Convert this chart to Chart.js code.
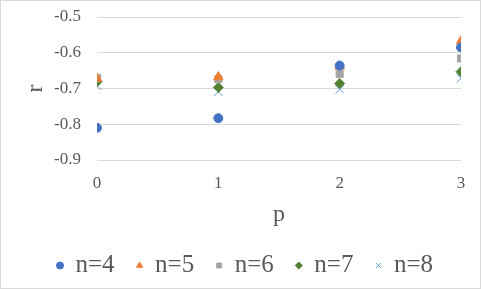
<!DOCTYPE html>
<html>
<head>
<meta charset="utf-8">
<script src="https://cdn.jsdelivr.net/npm/chart.js@4/dist/chart.umd.min.js"></script>
<style>
  html, body { margin: 0; padding: 0; background: #fff; }
  #wrap { width: 481px; height: 289px; box-sizing: border-box; border: 1px solid #d9d9d9; }
</style>
</head>
<body>
<div id="wrap"><canvas id="scatterChart"></canvas></div>
<script>
// p values on the x axis
const pValues = [0, 1, 2, 3];

// r values per series
const n4 = [-0.810, -0.783, -0.636, -0.585];
const n5 = [-0.672, -0.668, -0.638, -0.567];
const n6 = [-0.671, -0.674, -0.659, -0.616];
const n7 = [-0.681, -0.697, -0.686, -0.653];
const n8 = [-0.692, -0.709, -0.702, -0.671];

const yTicks = [-0.9, -0.8, -0.7, -0.6, -0.5];

function pts(arr) {
  return pValues.map((p, i) => ({ x: p, y: arr[i] }));
}

const serif = '"Liberation Serif", "Times New Roman", serif';
Chart.defaults.font.family = serif;
Chart.defaults.color = '#595959';

// legend row is centred with a trailing gap, nudge it back to the middle
const legendShift = {
  id: 'legendShift',
  afterLayout(chart) {
    chart.legend.left += 14;
    chart.legend.right += 14;
  }
};

new Chart("scatterChart", {
  type: 'scatter',
  data: {
    datasets: [
      { label: 'n=4', data: pts(n4), pointStyle: 'circle', pointRadius: 4.5, backgroundColor: '#4472C4', borderColor: '#4472C4' },
      { label: 'n=5', data: pts(n5), pointStyle: 'triangle', pointRadius: 5.5, backgroundColor: '#ED7D31', borderColor: '#ED7D31' },
      { label: 'n=6', data: pts(n6), pointStyle: 'rect', pointRadius: 5, backgroundColor: '#A5A5A5', borderColor: '#A5A5A5' },
      { label: 'n=7', data: pts(n7), pointStyle: 'rectRot', pointRadius: 5, backgroundColor: '#548235', borderColor: '#548235' },
      { label: 'n=8', data: pts(n8), pointStyle: 'cross', pointRotation: 45, pointRadius: 6, borderWidth: 1, backgroundColor: '#5B9BD5', borderColor: '#5B9BD5' }
    ]
  },
  options: {
    responsive: true,
    maintainAspectRatio: false,
    animation: false,
    layout: { padding: { top: 16, right: 19, left: 0, bottom: 0 } },
    plugins: {
      tooltip: { enabled: false },
      legend: {
        position: 'bottom',
        labels: {
          usePointStyle: true,
          boxWidth: 6,
          boxHeight: 5,
          padding: 22,
          color: '#595959',
          font: { family: serif, size: 25 }
        }
      }
    },
    scales: {
      x: {
        type: 'linear',
        min: 0,
        max: 3,
        grid: { display: false, drawTicks: false },
        border: { display: false },
        ticks: { stepSize: 1, padding: 13, color: '#595959', font: { family: serif, size: 17 } },
        title: { display: true, text: 'p', color: '#595959', font: { family: serif, size: 24, lineHeight: 1 }, padding: { top: 0, bottom: 4 } },
        afterFit: (axis) => { axis.height = 71; axis.paddingLeft = 0; axis.paddingRight = 0; }
      },
      y: {
        min: -0.9,
        max: -0.5,
        afterBuildTicks: (axis) => { axis.ticks = yTicks.map(v => ({ value: v })); },
        grid: { color: '#d9d9d9', drawTicks: false },
        border: { display: false },
        ticks: { padding: 16, color: '#595959', font: { family: serif, size: 17 }, callback: v => v.toFixed(1) },
        title: { display: true, text: 'r', color: '#595959', font: { family: serif, size: 24 }, padding: { top: 20, bottom: 0 } },
        afterFit: (axis) => { axis.width = 96; axis.paddingTop = 0; axis.paddingBottom = 0; }
      }
    }
  },
  plugins: [legendShift]
});
</script>
</body>
</html>
